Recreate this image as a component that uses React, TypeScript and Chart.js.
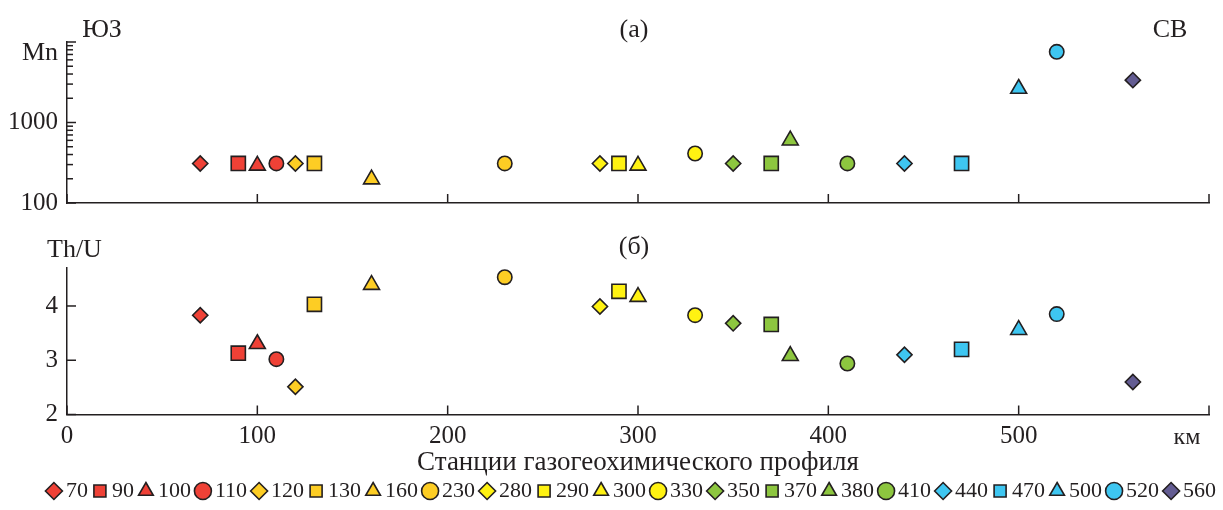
import React, { useEffect, useRef } from 'react';
import { Chart, registerables } from 'chart.js';

Chart.register(...registerables);

// ---------- data ----------
const stations = [70, 90, 100, 110, 120, 130, 160, 230, 280, 290, 300, 330, 350, 370, 380, 410, 440, 470, 500, 520, 560];
const mnValues = [310, 310, 292, 310, 310, 310, 197, 310, 310, 310, 292, 412, 310, 310, 600, 310, 310, 310, 2630, 7550, 3360];
const thuValues = [3.83, 3.13, 3.3, 3.02, 2.51, 4.03, 4.39, 4.53, 3.99, 4.27, 4.17, 3.83, 3.68, 3.66, 3.08, 2.94, 3.1, 3.2, 3.56, 3.85, 2.6];
const markerShapes = [
  'rectRot', 'rect', 'triangle', 'circle',
  'rectRot', 'rect', 'triangle', 'circle',
  'rectRot', 'rect', 'triangle', 'circle',
  'rectRot', 'rect', 'triangle', 'circle',
  'rectRot', 'rect', 'triangle', 'circle',
  'rectRot',
];
const RED = '#EF4136';
const GOLD = '#FDCD24';
const YELLOW = '#FFF212';
const GREEN = '#8DC63F';
const CYAN = '#3EC6F1';
const PURPLE = '#635C92';
const markerColors = [
  RED, RED, RED, RED,
  GOLD, GOLD, GOLD, GOLD,
  YELLOW, YELLOW, YELLOW, YELLOW,
  GREEN, GREEN, GREEN, GREEN,
  CYAN, CYAN, CYAN, CYAN,
  PURPLE,
];
const xTicks = [0, 100, 200, 300, 400, 500, 600];
const xTickLabels = ['0', '100', '200', '300', '400', '500', ''];
const mnTicks = [100, 200, 300, 400, 500, 600, 700, 800, 900, 1000, 2000, 3000, 4000, 5000, 6000, 7000, 8000, 9000, 10000];
const mnMajorTicks = [100, 1000, 10000];
const mnTickLabels: Record<number, string> = { 100: '100', 1000: '1000' };
const thuTicks = [2, 3, 4];
const thuTickLabels = ['2', '3', '4'];
const xTitle = 'Станции газогеохимического профиля';

// ---------- styles ----------
const INK = '#231F20';
const FONT = "'Liberation Serif', 'Times New Roman', serif";
const radiusByShape: Record<string, number> = { rectRot: 7.6, rect: 10, triangle: 9.2, circle: 7.2 };

Chart.defaults.font.family = FONT;
Chart.defaults.color = INK;

const zeroPad = (scale: any) => {
  scale.paddingLeft = 0;
  scale.paddingRight = 0;
  scale.paddingTop = 0;
  scale.paddingBottom = 0;
};

const innerTicks = {
  id: 'innerTicks',
  beforeDatasetsDraw(chart: any, _args: any, opts: any) {
    const ctx = chart.ctx;
    const xs = chart.scales.x;
    const ys = chart.scales.y;
    ctx.save();
    ctx.strokeStyle = INK;
    ctx.lineWidth = 1.5;
    for (const t of xs.ticks) {
      const px = xs.getPixelForValue(t.value);
      ctx.beginPath();
      ctx.moveTo(px, xs.top);
      ctx.lineTo(px, xs.top - 9);
      ctx.stroke();
    }
    for (const t of ys.ticks) {
      const py = ys.getPixelForValue(t.value);
      const major = opts.major ? opts.major.includes(t.value) : true;
      const len = major ? 9 : 6;
      ctx.beginPath();
      ctx.moveTo(ys.right, py);
      ctx.lineTo(ys.right + len, py);
      ctx.stroke();
    }
    ctx.restore();
  },
};

const legendShift = {
  id: 'legendShift',
  afterLayout(chart: any, _args: any, opts: any) {
    const l = chart.legend;
    if (l && opts.dx) {
      l.left += opts.dx;
      l.right += opts.dx;
    }
  },
};

function makeDatasets(values: number[]) {
  return stations.map((s, i) => ({
    label: String(s),
    data: [{ x: s, y: values[i] }],
    pointStyle: markerShapes[i],
    pointRadius: radiusByShape[markerShapes[i]],
    pointHoverRadius: radiusByShape[markerShapes[i]],
    backgroundColor: markerColors[i],
    borderColor: INK,
    borderWidth: 1.6,
    showLine: false,
  }));
}

const xScale = (showLabels: boolean, height: number) => ({
  type: 'linear',
  min: 0,
  max: 600,
  position: 'bottom',
  afterBuildTicks: (scale: any) => {
    scale.ticks = xTicks.map((v) => ({ value: v }));
  },
  afterFit: (scale: any) => {
    scale.height = height;
    zeroPad(scale);
  },
  grid: { display: false, drawTicks: false },
  border: { display: true, color: INK, width: 1.5 },
  ticks: {
    display: showLabels,
    autoSkip: false,
    maxRotation: 0,
    padding: 7,
    font: { size: 25, family: FONT },
    color: INK,
    callback: (v: any) => xTickLabels[xTicks.indexOf(Number(v))] ?? '',
  },
  title: showLabels
    ? {
        display: true,
        text: xTitle,
        color: INK,
        font: { size: 27, family: FONT, lineHeight: 0.48 },
        padding: { top: 0, bottom: 0 },
      }
    : { display: false },
});

const Label = ({ text, x, y, align = 'center', size = 26 }: any) => {
  const tx = align === 'center' ? '-50%' : align === 'right' ? '-100%' : '0';
  return (
    <div
      style={{
        position: 'absolute',
        left: x,
        top: y,
        transform: `translate(${tx}, -50%)`,
        fontFamily: FONT,
        fontSize: size,
        lineHeight: 1,
        color: INK,
        whiteSpace: 'nowrap',
      }}
    >
      {text}
    </div>
  );
};

export default function App() {
  const topRef = useRef<HTMLCanvasElement>(null);
  const botRef = useRef<HTMLCanvasElement>(null);

  useEffect(() => {
    document.body.style.margin = '0';
    const top = new Chart(topRef.current as HTMLCanvasElement, {
      type: 'scatter',
      data: { datasets: makeDatasets(mnValues) as any },
      plugins: [innerTicks],
      options: {
        animation: false,
        responsive: false,
        devicePixelRatio: 1,
        layout: { padding: { top: 42, right: 14, left: 0, bottom: 0 } },
        plugins: {
          legend: { display: false },
          tooltip: { enabled: false },
          innerTicks: { major: mnMajorTicks },
        } as any,
        scales: {
          x: xScale(false, 12) as any,
          y: {
            type: 'logarithmic',
            min: 100,
            max: 10000,
            afterBuildTicks: (scale: any) => {
              scale.ticks = mnTicks.map((v) => ({ value: v, major: mnMajorTicks.includes(v) }));
            },
            afterFit: (scale: any) => {
              scale.width = 67;
              zeroPad(scale);
            },
            grid: { display: false, drawTicks: false },
            border: { display: true, color: INK, width: 1.5 },
            ticks: {
              autoSkip: false,
              padding: 9,
              font: { size: 25, family: FONT },
              color: INK,
              callback: (v: any) => mnTickLabels[Number(v)] ?? '',
            },
          } as any,
        },
      },
    });

    const bot = new Chart(botRef.current as HTMLCanvasElement, {
      type: 'scatter',
      data: { datasets: makeDatasets(thuValues) as any },
      plugins: [innerTicks, legendShift],
      options: {
        animation: false,
        responsive: false,
        devicePixelRatio: 1,
        layout: { padding: { top: 53, right: 14, left: 0, bottom: 0 } },
        plugins: {
          tooltip: { enabled: false },
          innerTicks: {},
          legendShift: { dx: 30 },
          legend: {
            display: true,
            position: 'bottom',
            labels: {
              usePointStyle: true,
              boxWidth: 2,
              boxHeight: 12,
              padding: 11,
              color: INK,
              font: { size: 22, family: FONT },
            },
          },
        } as any,
        scales: {
          x: xScale(true, 54.5) as any,
          y: {
            type: 'linear',
            min: 2,
            max: 4.7,
            afterBuildTicks: (scale: any) => {
              scale.ticks = thuTicks.map((v) => ({ value: v }));
            },
            afterFit: (scale: any) => {
              scale.width = 67;
              zeroPad(scale);
            },
            grid: { display: false, drawTicks: false },
            border: { display: true, color: INK, width: 1.5 },
            ticks: {
              autoSkip: false,
              padding: 9,
              font: { size: 25, family: FONT },
              color: INK,
              callback: (v: any) => thuTickLabels[thuTicks.indexOf(Number(v))] ?? '',
            },
          } as any,
        },
      },
    });

    return () => {
      top.destroy();
      bot.destroy();
    };
  }, []);

  return (
    <div style={{ position: 'relative', width: 1223, height: 510, overflow: 'hidden', background: '#fff' }}>
      <canvas ref={topRef} width={1223} height={215} style={{ position: 'absolute', left: 0, top: 0 }} />
      <canvas ref={botRef} width={1223} height={297} style={{ position: 'absolute', left: 0, top: 215 }} />
      <Label text="ЮЗ" x={102} y={29} />
      <Label text="(а)" x={634} y={29} />
      <Label text="СВ" x={1170} y={29} />
      <Label text="Mn" x={58} y={52} align="right" />
      <Label text="Th/U" x={47} y={249} align="left" />
      <Label text="(б)" x={634} y={246} />
      <Label text="км" x={1187} y={436} size={24} />
    </div>
  );
}
